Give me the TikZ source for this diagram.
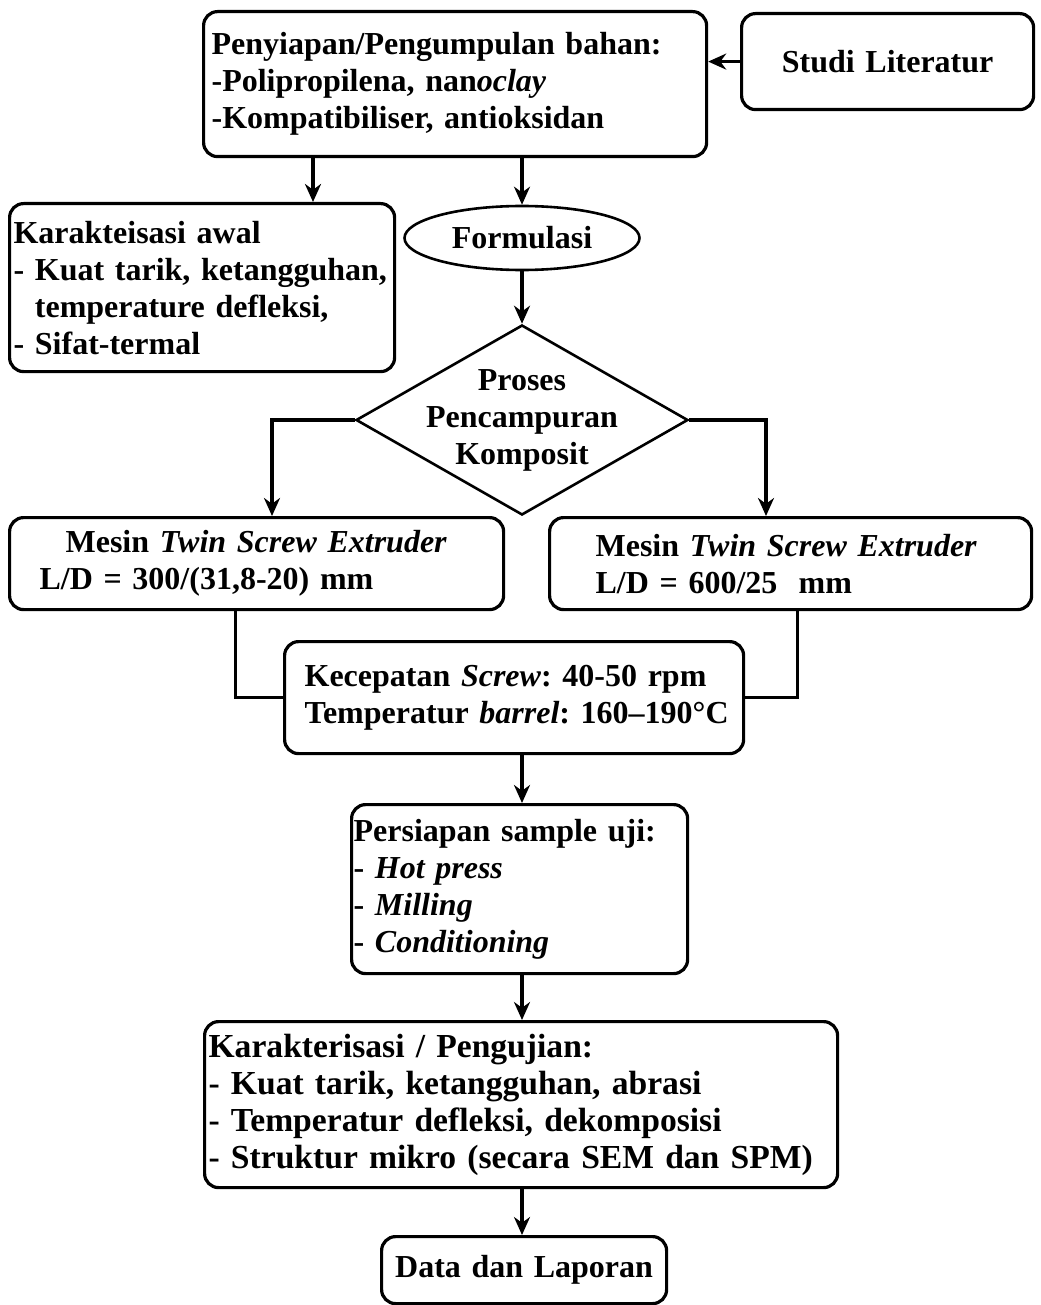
\documentclass[tikz,border=0pt]{standalone}
\usepackage{fontspec}
\setmainfont{Liberation Serif}
\frenchspacing
\usetikzlibrary{arrows.meta,positioning,shapes.geometric}
\tikzset{
box/.style={draw, line width=1.6pt, rounded corners=7pt, anchor=north west, align=left, inner ysep=0pt},
oval/.style={draw, ellipse, line width=1.3pt, inner sep=0pt},
decision/.style={draw, diamond, line width=1.3pt, inner sep=0pt},
arr/.style={-{Stealth[length=9pt,width=8pt]}, line width=1.6pt},
link/.style={line width=1.5pt},
}
\tikzstyle{every node}=[font=\bfseries\fontsize{16}{18.5}\selectfont]

\begin{document}
\begin{tikzpicture}[x=0.5pt,y=-0.5pt]
        \useasboundingbox (0,0) rectangle (1040,1305);
        % guide points for the arrows
        \coordinate (axis) at (522,0);
        \coordinate (lkarak) at (313,0);
        \coordinate (lturn) at (272,0);
        \coordinate (rturn) at (766,0);
        \coordinate (ljoin) at (235,0);
        \coordinate (rjoin) at (797,0);

        \node[box, inner xsep=4pt, text width=243.5pt, minimum height=72.5pt] (prep) at (202,10)
            {Penyiapan/Pengumpulan bahan:\\-Polipropilena, nan\textit{oclay}\\-Kompatibiliser, antioksidan};
        \node[box, align=center, inner xsep=4pt, text width=138pt, minimum height=48pt] (studi) at (740,12)
            {Studi Literatur};
        \node[box, inner xsep=2pt, text width=188.5pt, minimum height=84pt] (awal) at (8,202)
            {Karakteisasi awal\\- Kuat~tarik,~ketangguhan,\\\phantom{- }temperature defleksi,\\- Sifat-termal};
        \node[oval, minimum width=117.5pt, minimum height=32pt] (form) at (522,238) {Formulasi};
        \node[decision, minimum width=166pt, minimum height=95pt] (mix) at (522,420) {};
        \node[align=center] (mixlbl) at (mix) {Proses\\Pencampuran\\Komposit};

        \node[box, inner xsep=15pt, text width=217pt, minimum height=46pt] (mesinL) at (8,516)
            {\hspace{13pt}Mesin \textit{Twin Screw Extruder}\\L/D = 300/(31,8-20) mm};
        \node[box, inner xsep=23pt, text width=195pt, minimum height=46pt] (mesinR) at (548,516)
            {Mesin \textit{Twin Screw Extruder}\\L/D = 600/25\ \ mm};
        \node[box, inner xsep=10pt, text width=209.5pt, minimum height=56pt] (kec) at (283,640)
            {\mbox{Kecepatan \textit{Screw}: 40-50 rpm}\\\mbox{Temperatur \textit{barrel}: 160--190°C}};
        \node[box, inner xsep=1pt, text width=166pt, minimum height=84.5pt] (pers) at (350,803)
            {Persiapan sample uji:\\- \textit{Hot press}\\- \textit{Milling}\\- \textit{Conditioning}};
        \node[box, inner xsep=2pt, text width=312.5pt, minimum height=83pt,
              font=\bfseries\fontsize{16.8}{18.5}\selectfont] (karak) at (203,1020)
            {Karakterisasi / Pengujian:\\- Kuat tarik, ketangguhan, abrasi\\- Temperatur defleksi, dekomposisi\\- Struktur mikro (secara SEM dan SPM)};
        \node[box, align=center, inner xsep=4pt, text width=134.5pt, minimum height=33.5pt] (data) at (380,1235)
            {Data dan Laporan};

        \draw[arr] (studi.west) -- (studi.west -| prep.east);
        \draw[arr] (prep.south -| lkarak) -- (awal.north -| lkarak);
        \draw[arr] (prep.south -| form.north) -- (form.north);
        \draw[arr] (form.south) -- (mix.north);
        \draw[arr] (mix.west) -| (mesinL.north -| lturn);
        \draw[arr] (mix.east) -| (mesinR.north -| rturn);
        \draw[link] (mesinL.south -| ljoin) |- (kec.west);
        \draw[link] (mesinR.south -| rjoin) |- (kec.east);
        \draw[arr] (kec.south -| axis) -- (pers.north -| axis);
        \draw[arr] (pers.south -| axis) -- (karak.north -| axis);
        \draw[arr] (karak.south -| axis) -- (data.north -| axis);
\end{tikzpicture}
\end{document}
